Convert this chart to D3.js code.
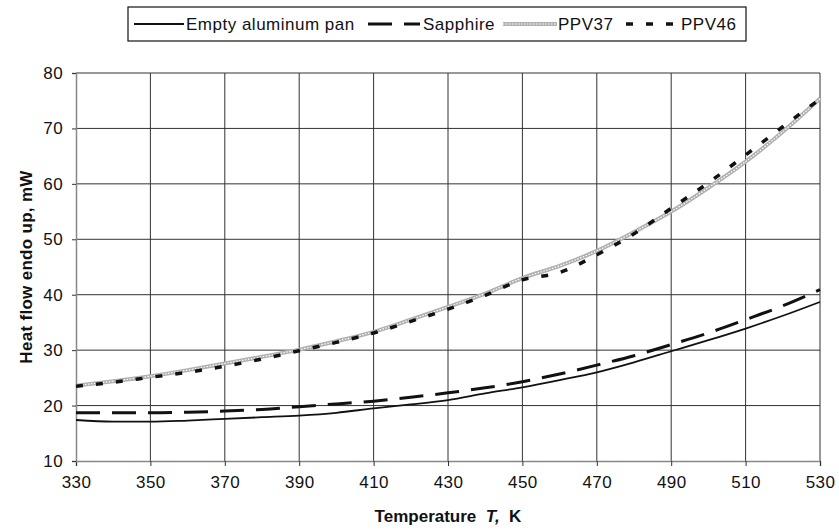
<!DOCTYPE html>
<meta charset="utf-8">
<style>
body { margin: 0; background: #fff; }
text { font-family: "Liberation Sans", Arial, sans-serif; fill: #111; }
.grid line { stroke: #333; stroke-width: 1px; }
</style>
<svg width="839" height="532"></svg>
<script src="https://cdnjs.cloudflare.com/ajax/libs/d3/7.8.5/d3.min.js"></script>
<script>

var temps = [330, 340, 350, 360, 370, 380, 390, 400, 410, 420, 430, 440, 450, 460, 470, 480, 490, 500, 510, 520, 530]

var emptyPan = [17.4, 17.1, 17.1, 17.3, 17.6, 17.9, 18.2, 18.7, 19.5, 20.2, 21.0, 22.2, 23.3, 24.6, 26.0, 27.8, 29.8, 31.8, 33.9, 36.2, 38.7]
var sapphire = [18.7, 18.7, 18.7, 18.8, 19.0, 19.3, 19.8, 20.3, 20.8, 21.5, 22.3, 23.2, 24.3, 25.7, 27.3, 29.0, 31.0, 33.1, 35.5, 38.0, 40.9]
var ppv37 = [23.6, 24.4, 25.3, 26.4, 27.6, 28.8, 30.1, 31.6, 33.3, 35.5, 37.8, 40.2, 43.0, 45.2, 47.9, 51.3, 55.0, 59.3, 64.0, 69.4, 75.4]
var ppv46 = [23.5, 24.2, 25.1, 26.0, 27.1, 28.4, 29.9, 31.4, 33.1, 35.2, 37.4, 39.9, 42.7, 44.0, 47.2, 51.0, 55.6, 60.2, 65.2, 70.3, 75.3]

var seriesNames = ["Empty aluminum pan", "Sapphire", "PPV37", "PPV46"]

var xTicks = [330, 350, 370, 390, 410, 430, 450, 470, 490, 510, 530]
var yTicks = [10, 20, 30, 40, 50, 60, 70, 80]

var svg = d3.select("svg")

// plot box (don't call it "top", that's window.top)
var pLeft = 76, pRight = 820, pTop = 73, pBottom = 461

var x = d3.scaleLinear().domain([330, 530]).range([pLeft, pRight])
var y = d3.scaleLinear().domain([10, 80]).range([pBottom, pTop])

// grid
var grid = svg.append("g").attr("class", "grid")
grid.selectAll(".v")
  .data(xTicks.slice(1))
  .enter().append("line")
    .attr("x1", function(d) { return x(d) }).attr("x2", function(d) { return x(d) })
    .attr("y1", pTop).attr("y2", pBottom)
grid.selectAll(".h")
  .data(yTicks.slice(1))
  .enter().append("line")
    .attr("x1", pLeft).attr("x2", pRight)
    .attr("y1", function(d) { return y(d) }).attr("y2", function(d) { return y(d) })

// axes
var xAxis = svg.append("g")
    .attr("transform", "translate(0," + pBottom + ")")
    .call(d3.axisBottom(x).tickValues(xTicks).tickSize(5).tickPadding(10).tickFormat(d3.format("d")))
var yAxis = svg.append("g")
    .attr("transform", "translate(" + pLeft + ",0)")
    .call(d3.axisLeft(y).tickValues(yTicks).tickSize(4).tickPadding(9).tickFormat(d3.format("d")))

svg.selectAll(".domain").attr("stroke", "#888").attr("stroke-width", 1.5)
xAxis.selectAll(".tick line").attr("stroke", "#333")
yAxis.selectAll(".tick line").attr("stroke", "#333")
svg.selectAll(".tick text").style("font-size", "17px").attr("fill", "#111")
  .style("font-family", "'Liberation Sans', Arial, sans-serif")
  .style("letter-spacing", "0.4px")

// lines
var line = d3.line()
    .x(function(d) { return x(d[0]) })
    .y(function(d) { return y(d[1]) })
    .curve(d3.curveMonotoneX)

function pts(vals) { return temps.map(function(t, i) { return [t, vals[i]] }) }

var styles = [
  {data: emptyPan, stroke: "#111", width: 1.8, dash: null},
  {data: sapphire, stroke: "#111", width: 3, dash: "24,12"},
  {data: ppv37, stroke: "#b0b0b0", width: 4, dash: null, texture: true},
  {data: ppv46, stroke: "#111", width: 3.5, dash: "7,13"}
]

var plot = svg.append("g")
styles.forEach(function(s) {
  plot.append("path")
    .attr("d", line(pts(s.data)))
    .attr("fill", "none")
    .attr("stroke", s.stroke)
    .attr("stroke-width", s.width)
    .attr("stroke-dasharray", s.dash)
  if (s.texture) {
    plot.append("path")
      .attr("d", line(pts(s.data)))
      .attr("fill", "none")
      .attr("stroke", "#fff")
      .attr("stroke-width", 1.2)
      .attr("stroke-dasharray", "1.5,1.5")
  }
})

// axis titles
svg.append("text")
    .attr("transform", "translate(32," + ((pTop + pBottom) / 2) + ") rotate(-90)")
    .attr("text-anchor", "middle")
    .style("font-size", "17px")
    .style("font-weight", "bold")
    .style("letter-spacing", "0.3px")
    .text("Heat flow endo up, mW")

var xt = svg.append("text")
    .attr("x", (pLeft + pRight) / 2)
    .attr("y", 522)
    .attr("text-anchor", "middle")
    .style("font-size", "17px")
    .style("font-weight", "bold")
    .attr("xml:space", "preserve")
xt.append("tspan").text("Temperature  ")
xt.append("tspan").style("font-style", "italic").text("T,")
xt.append("tspan").text("  K")

// legend
svg.append("rect")
    .attr("x", 128).attr("y", 7)
    .attr("width", 618).attr("height", 34)
    .attr("fill", "#fff")
    .attr("stroke", "#111")
    .attr("stroke-width", 1.2)

var legendPos = [
  {x1: 134, x2: 184, tx: 186},
  {x1: 368, x2: 420, tx: 423},
  {x1: 503, x2: 557, tx: 558},
  {x1: 626, x2: 679, tx: 681}
]

var legend = svg.append("g")
seriesNames.forEach(function(name, i) {
  var s = styles[i], p = legendPos[i]
  legend.append("line")
    .attr("x1", p.x1).attr("x2", p.x2)
    .attr("y1", 24).attr("y2", 24)
    .attr("stroke", s.stroke)
    .attr("stroke-width", s.width)
    .attr("stroke-dasharray", s.dash)
  if (s.texture) {
    legend.append("line")
      .attr("x1", p.x1).attr("x2", p.x2)
      .attr("y1", 24).attr("y2", 24)
      .attr("stroke", "#fff")
      .attr("stroke-width", 1.2)
      .attr("stroke-dasharray", "1.5,1.5")
  }
  legend.append("text")
    .attr("x", p.tx).attr("y", 30)
    .style("font-size", "17px")
    .style("letter-spacing", "0.5px")
    .text(name)
})

</script>
